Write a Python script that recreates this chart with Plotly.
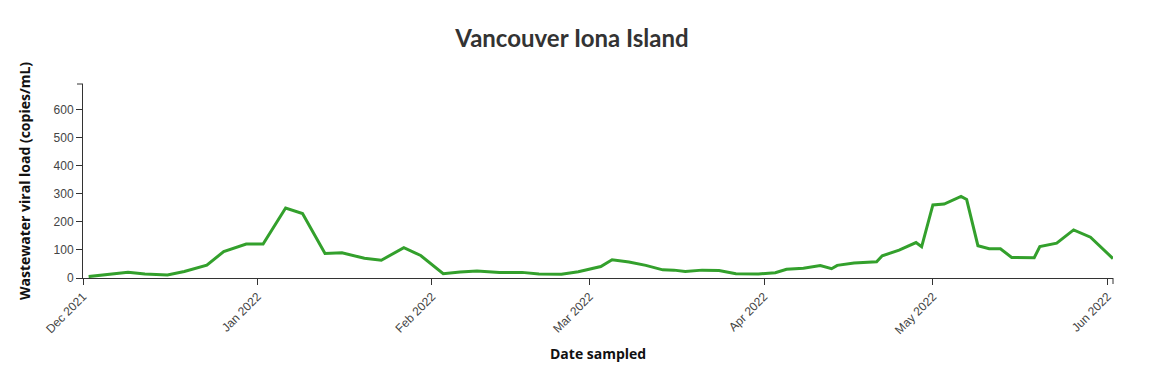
import plotly.graph_objects as go
import pandas as pd

dates = [
    "2021-12-02", "2021-12-09", "2021-12-12", "2021-12-16", "2021-12-19", "2021-12-23",
    "2021-12-26", "2021-12-30", "2022-01-02", "2022-01-06", "2022-01-09", "2022-01-13",
    "2022-01-16", "2022-01-20", "2022-01-23", "2022-01-27", "2022-01-30", "2022-02-03",
    "2022-02-06", "2022-02-09", "2022-02-13", "2022-02-17", "2022-02-20", "2022-02-24",
    "2022-02-27", "2022-03-03", "2022-03-05", "2022-03-08", "2022-03-11", "2022-03-14",
    "2022-03-16", "2022-03-18", "2022-03-21", "2022-03-24", "2022-03-27", "2022-03-31",
    "2022-04-03", "2022-04-05", "2022-04-08", "2022-04-11", "2022-04-13", "2022-04-14",
    "2022-04-17", "2022-04-21", "2022-04-22", "2022-04-25", "2022-04-28", "2022-04-29",
    "2022-05-01", "2022-05-03", "2022-05-06", "2022-05-07", "2022-05-09", "2022-05-11",
    "2022-05-13", "2022-05-15", "2022-05-19", "2022-05-20", "2022-05-23", "2022-05-26",
    "2022-05-29", "2022-06-02",
]
viral_load = [
    5, 20, 14, 11, 23, 46,
    94, 121, 121, 249, 229, 87,
    90, 70, 63, 108, 80, 15,
    21, 25, 20, 20, 14, 13,
    22, 41, 65, 57, 45, 29,
    28, 23, 28, 27, 15, 14,
    19, 31, 35, 44, 33, 45,
    53, 58, 79, 99, 126, 111,
    260, 263, 290, 279, 115, 104,
    104, 73, 72, 112, 124, 171,
    145, 69,
]
tick_values = ["2021-12-01", "2022-01-01", "2022-02-01", "2022-03-01",
               "2022-04-01", "2022-05-01", "2022-06-01"]
tick_labels = ["Dec 2021", "Jan 2022", "Feb 2022", "Mar 2022",
               "Apr 2022", "May 2022", "Jun 2022"]
y_ticks = [0, 100, 200, 300, 400, 500, 600]

x = pd.to_datetime(dates)

W, H = 1146, 363
L, R, T, B = 75, 41, 76, 93
PW, PH = W - L - R, H - T - B

fig = go.Figure()
fig.add_trace(go.Scatter(
    x=x, y=viral_load, mode="lines",
    line=dict(color="#33a02c", width=3),
    hoverinfo="x+y",
))

axis_color = "#333333"
tick_font = dict(family="Liberation Sans, Arial, sans-serif", size=12, color="#444444")

fig.update_layout(
    width=W, height=H,
    margin=dict(l=L, r=R, t=T, b=B),
    plot_bgcolor="white", paper_bgcolor="white",
    showlegend=False,
    title=dict(
        text="<b>Vancouver Iona Island</b>",
        font=dict(family="Lato, sans-serif", size=24, color="#333333"),
        x=564 / W, xanchor="center", xref="container",
        y=1 - 31 / H, yanchor="middle",
    ),
    xaxis=dict(
        range=["2021-12-01", "2022-06-02"],
        tickvals=pd.to_datetime(tick_values), ticktext=tick_labels,
        tickangle=-45, ticks="outside", ticklen=6, tickcolor=axis_color,
        showline=True, linecolor=axis_color, linewidth=1,
        showgrid=False, zeroline=False, tickfont=tick_font,
    ),
    yaxis=dict(
        range=[0, 690], tickvals=y_ticks,
        ticks="outside", ticklen=6, tickcolor=axis_color,
        showline=True, linecolor=axis_color, linewidth=1,
        showgrid=False, zeroline=False, tickfont=tick_font,
    ),
    annotations=[
        dict(text="<b>Wastewater viral load (copies/mL)</b>", textangle=-90,
             xref="paper", yref="paper", x=-59 / PW, y=0.5,
             xanchor="center", yanchor="middle", showarrow=False,
             font=dict(family="Open Sans, sans-serif", size=14, color="#111111")),
        dict(text="<b>Date sampled</b>", xref="paper", yref="paper",
             x=0.5, y=-75 / PH, xanchor="center", yanchor="middle", showarrow=False,
             font=dict(family="Open Sans, sans-serif", size=14, color="#111111")),
    ],
    shapes=[
        dict(type="line", xref="paper", yref="paper", x0=-6 / PW, x1=0, y0=1, y1=1,
             line=dict(color=axis_color, width=1)),
        dict(type="line", xref="paper", yref="paper", x0=1, x1=1, y0=0, y1=-6 / PH,
             line=dict(color=axis_color, width=1)),
    ],
)

fig.write_html("out.html")
